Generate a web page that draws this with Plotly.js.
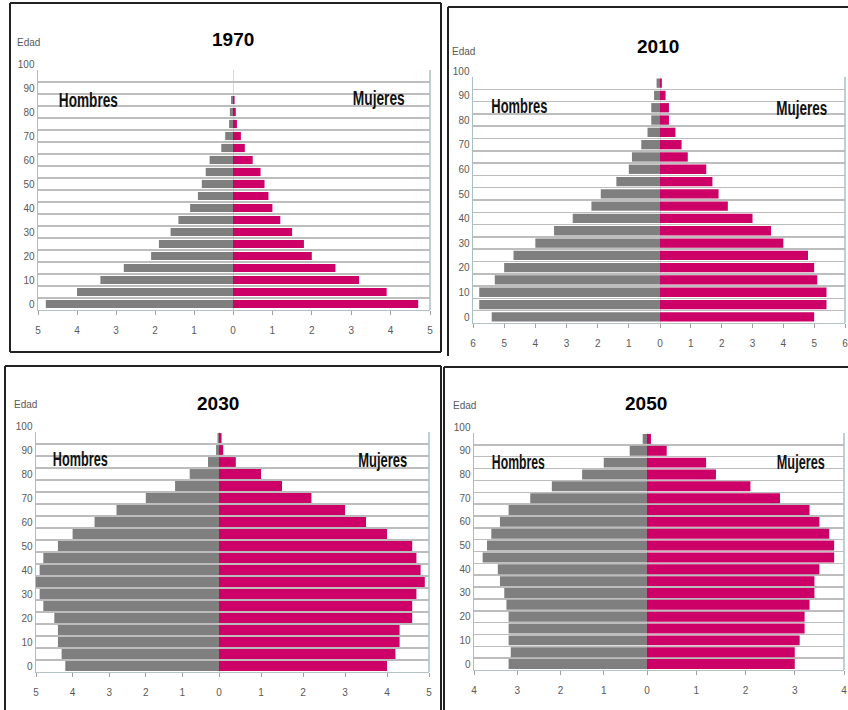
<!DOCTYPE html>
<html>
<head>
<meta charset="utf-8">
<script src="https://cdn.plot.ly/plotly-3.0.1.min.js"></script>
<style>html,body{margin:0;padding:0;background:#fff;}#chart{width:848px;height:710px;}</style>
</head>
<body>
<div id="chart"></div>
<script>
// ---- data ----
const ageGroups = [0,5,10,15,20,25,30,35,40,45,50,55,60,65,70,75,80,85,90,95];
const years = ['1970','2010','2030','2050'];
const hombres1970 = [4.8,4.0,3.4,2.8,2.1,1.9,1.6,1.4,1.1,0.9,0.8,0.7,0.6,0.3,0.2,0.1,0.08,0.05,0,0];
const mujeres1970 = [4.7,3.9,3.2,2.6,2.0,1.8,1.5,1.2,1.0,0.9,0.8,0.7,0.5,0.3,0.2,0.1,0.07,0.04,0,0];
const hombres2010 = [5.4,5.8,5.8,5.3,5.0,4.7,4.0,3.4,2.8,2.2,1.9,1.4,1.0,0.9,0.6,0.4,0.28,0.28,0.19,0.11];
const mujeres2010 = [5.0,5.4,5.4,5.1,5.0,4.8,4.0,3.6,3.0,2.2,1.9,1.7,1.5,0.9,0.7,0.5,0.29,0.29,0.18,0.06];
const hombres2030 = [4.2,4.3,4.4,4.4,4.5,4.8,4.9,5.0,4.9,4.8,4.4,4.0,3.4,2.8,2.0,1.2,0.8,0.3,0.08,0.04];
const mujeres2030 = [4.0,4.2,4.3,4.3,4.6,4.6,4.7,4.9,4.8,4.7,4.6,4.0,3.5,3.0,2.2,1.5,1.0,0.4,0.1,0.06];
const hombres2050 = [3.2,3.15,3.2,3.2,3.2,3.25,3.3,3.4,3.45,3.8,3.7,3.6,3.4,3.2,2.7,2.2,1.5,1.0,0.4,0.1];
const mujeres2050 = [3.0,3.0,3.1,3.2,3.2,3.3,3.4,3.4,3.5,3.8,3.8,3.7,3.5,3.3,2.7,2.1,1.4,1.2,0.4,0.08];
const axisMax = [5,6,5,4];
const yTickVals = [0,10,20,30,40,50,60,70,80,90,100];

const menSeries = [hombres1970,hombres2010,hombres2030,hombres2050];
const womenSeries = [mujeres1970,mujeres2010,mujeres2030,mujeres2050];

// ---- layout geometry (pixels) ----
const W = 848, H = 710;
const fx = p => p / W, fy = p => 1 - p / H;
const panels = [
  {left:38, mid:233, right:430, top:70, bottom:310, bw:3.4, title:[233,39], edad:[28,42], hom:[88,100,59], muj:[379,98,52]},
  {left:473, mid:660, right:845, top:77, bottom:323, bw:3.8, title:[658,46], edad:[463,51], hom:[519,106,56], muj:[802,108,51]},
  {left:36, mid:219, right:429, top:432, bottom:672, bw:4.1, title:[218,403], edad:[25,404], hom:[80,459,55], muj:[383,460,49]},
  {left:474, mid:647, right:844, top:433, bottom:670, bw:4.2, title:[646,403], edad:[464,405], hom:[518,462,53], muj:[801,462,48]}
];

const GRAY = '#7f7f7f', PINK = '#cc0066';
const sans = '"Liberation Sans", Arial, sans-serif';
const tickFont = {family: sans, size: 10, color: '#595959'};

const traces = [];
const layout = {
  width: W, height: H,
  margin: {l:0, r:0, t:0, b:0},
  paper_bgcolor: '#fff', plot_bgcolor: 'rgba(0,0,0,0)',
  showlegend: false,
  barmode: 'overlay',
  annotations: [], shapes: []
};
const squeeze = [];

panels.forEach((p, i) => {
  const xm = 'x' + (2*i+1), xw = 'x' + (2*i+2), yy = 'y' + (i+1);
  const xmName = 'xaxis' + (2*i+1), xwName = 'xaxis' + (2*i+2), yName = 'yaxis' + (i+1);
  const yPos = ageGroups.map(a => a + 2.5);
  const max = axisMax[i];
  const ticks = [];
  for (let t = 0; t <= max; t++) ticks.push(t);

  traces.push({type:'bar', orientation:'h', x: menSeries[i], y: yPos, width: p.bw,
    xaxis: xm, yaxis: yy, marker:{color: GRAY, line:{width:0}}, hoverinfo:'skip'});
  traces.push({type:'bar', orientation:'h', x: womenSeries[i], y: yPos, width: p.bw,
    xaxis: xw, yaxis: yy, marker:{color: PINK, line:{width:0}}, hoverinfo:'skip'});

  const common = {
    showgrid:false, zeroline:false, showline:true, linecolor:'#b4c4c4', linewidth:1,
    ticks:'outside', ticklen:4, tickcolor:'#a0a0a0', tickfont: tickFont,
    ticklabelstandoff: 7, ticklabeloverflow:'allow', fixedrange:true
  };
  layout[xmName] = Object.assign({}, common, {
    domain:[fx(p.left), fx(p.mid)], range:[max, 0], tickvals: ticks, anchor: yy
  });
  layout[xwName] = Object.assign({}, common, {
    domain:[fx(p.mid), fx(p.right)], range:[0, max], tickvals: ticks.slice(1), anchor: yy
  });
  layout[yName] = {
    domain:[fy(p.bottom), fy(p.top)], range:[0,100], anchor: xm,
    tickvals: yTickVals, showgrid:true, gridcolor:'#bdbdbd', gridwidth:1.5,
    minor:{tick0:0, dtick:5, showgrid:true, gridcolor:'#bdbdbd', gridwidth:1.5, ticks:''},
    zeroline:false, showline:true, linecolor:'#a8c0c0', linewidth:1.5, ticks:'',
    tickfont: tickFont, ticklabelshift: -6, fixedrange:true
  };

  layout.shapes.push({type:'line', xref: xw, x0:0, x1:0, yref: yy + ' domain', y0:0, y1:1,
    line:{color:'#b0b0b0', width:1}, layer:'below'});
  layout.shapes.push({type:'line', xref: xw + ' domain', x0:1, x1:1, yref: yy + ' domain', y0:0, y1:1,
    line:{color:'#a8c0c0', width:1.5}});

  layout.annotations.push({text: years[i], xref:'paper', yref:'paper', x: fx(p.title[0]), y: fy(p.title[1]),
    xanchor:'center', yanchor:'middle', showarrow:false,
    font:{family: sans, size:19, color:'#000', weight:'bold'}});
  layout.annotations.push({text:'Edad', xref:'paper', yref:'paper', x: fx(p.edad[0]), y: fy(p.edad[1]),
    xanchor:'center', yanchor:'middle', showarrow:false, font:{family: sans, size:10, color:'#595959'}});
  layout.annotations.push({text:'Hombres', xref:'paper', yref:'paper', x: fx(p.hom[0]), y: fy(p.hom[1]),
    xanchor:'center', yanchor:'middle', showarrow:false, font:{family: sans, size:20, color:'#111', weight:'bold'}});
  squeeze.push(p.hom[2]);
  layout.annotations.push({text:'Mujeres', xref:'paper', yref:'paper', x: fx(p.muj[0]), y: fy(p.muj[1]),
    xanchor:'center', yanchor:'middle', showarrow:false, font:{family: sans, size:20, color:'#111', weight:'bold'}});
  squeeze.push(p.muj[2]);
});

function seg(x0,y0,x1,y1){
  layout.shapes.push({type:'line', xref:'paper', yref:'paper', x0:fx(x0), y0:fy(y0), x1:fx(x1), y1:fy(y1),
    line:{color:'#222', width:2}});
}
seg(10,3,441,3); seg(10,3,10,352); seg(441,3,441,352); seg(10,352,441,352);
seg(448,7,848,7); seg(448,7,448,356);
seg(5,366,441,366); seg(5,366,5,710); seg(441,366,441,710);
seg(444,367,848,367); seg(444,367,444,710);

Plotly.newPlot('chart', traces, layout, {staticPlot:true, displayModeBar:false}).then(gd => {
  // condense the Hombres / Mujeres labels horizontally, like the original narrow lettering
  let k = 0;
  gd.querySelectorAll('.annotation-text').forEach(t => {
    const s = t.textContent;
    if (s === 'Hombres' || s === 'Mujeres') {
      const b = t.getBBox();
      const cx = b.x + b.width / 2;
      const sx = squeeze[k] / b.width;
      t.setAttribute('transform', 'translate(' + cx + ',0) scale(' + sx + ',1) translate(' + (-cx) + ',0)');
      k++;
    }
  });
});
</script>
</body>
</html>
